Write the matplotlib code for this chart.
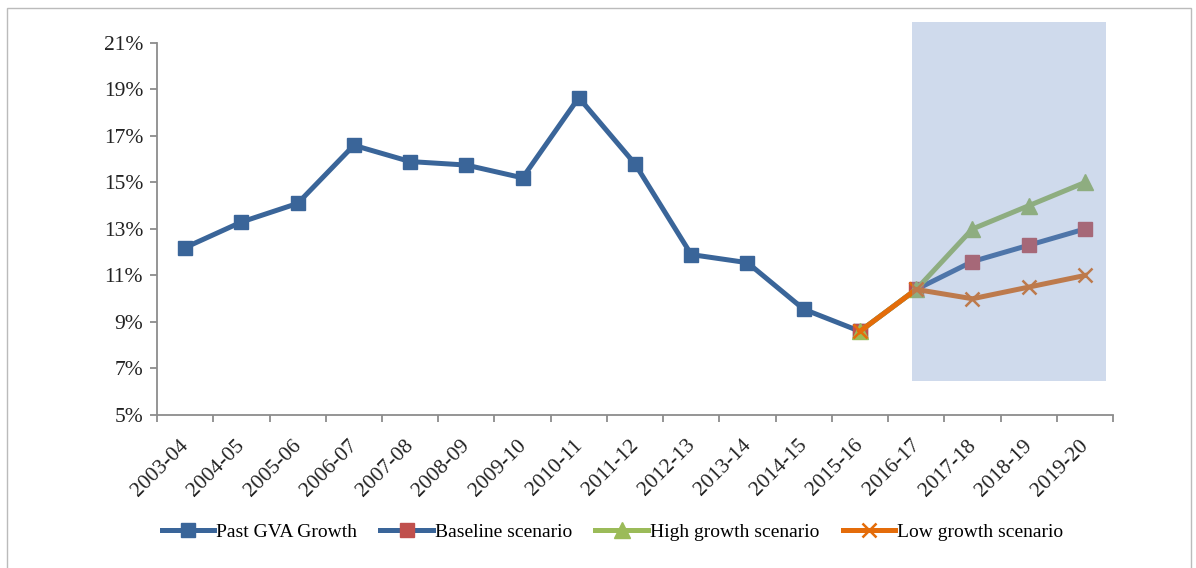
#!/usr/bin/env python3
# GVA growth: past values and three scenarios to 2019-20

import matplotlib
matplotlib.use('Agg')
import matplotlib.pyplot as plt
import matplotlib.transforms as mtransforms
from matplotlib.patches import Rectangle
from matplotlib.ticker import FuncFormatter

years = ['2003-04', '2004-05', '2005-06', '2006-07', '2007-08', '2008-09',
         '2009-10', '2010-11', '2011-12', '2012-13', '2013-14', '2014-15',
         '2015-16', '2016-17', '2017-18', '2018-19', '2019-20']

# Past GVA growth, 2003-04 .. 2015-16 (%)
past = [12.2, 13.3, 14.1, 16.6, 15.9, 15.75, 15.2, 18.65, 15.8,
        11.9, 11.55, 9.55, 8.6]

# Scenarios, 2015-16 .. 2019-20 (%)
baseline = [8.6, 10.4, 11.6, 12.3, 13.0]
high = [8.6, 10.4, 13.0, 14.0, 15.0]
low = [8.6, 10.4, 10.0, 10.5, 11.0]

yticks = [5, 7, 9, 11, 13, 15, 17, 19, 21]

plt.rcParams['font.family'] = ['Liberation Serif', 'DejaVu Serif']

fig = plt.figure(figsize=(11.96, 5.68), dpi=100)
ax = fig.add_axes([0.1313, 0.2694, 0.7993, 0.6549])

x_past = list(range(len(past)))
x_scen = list(range(len(past) - 1, len(years)))

blue = '#3A6599'
red = '#C0504D'
green = '#9BBB59'
orange = '#E46C0A'
lw = 3.6

ax.plot(x_past, past, color=blue, lw=lw, marker='s', ms=10,
        mfc=blue, mec=blue, label='Past GVA Growth', zorder=3)
ax.plot(x_scen, baseline, color=blue, lw=lw, marker='s', ms=10,
        mfc=red, mec=red, label='Baseline scenario', zorder=4)
ax.plot(x_scen, high, color=green, lw=lw, marker='^', ms=11,
        mfc=green, mec=green, label='High growth scenario', zorder=5)
ax.plot(x_scen, low, color=orange, lw=lw, marker='x', ms=10,
        mew=1.8, label='Low growth scenario', zorder=6)

# shaded projection box drawn over the lines
ax.add_patch(Rectangle((12.92, 6.46), 3.45, 15.45, facecolor='#7695C9',
                       edgecolor='none', alpha=0.35, zorder=10,
                       clip_on=False))

ax.set_xlim(-0.5, len(years) - 0.5)
ax.set_ylim(5, 21)
ax.set_yticks(yticks)
ax.yaxis.set_major_formatter(FuncFormatter(lambda v, p: f'{v:.0f}%'))
ax.set_xticks(range(len(years)))
ax.set_xticklabels(years, rotation=45, ha='right', rotation_mode='anchor')
ax.set_xticks([i - 0.5 for i in range(len(years) + 1)], minor=True)

for s in ['top', 'right']:
    ax.spines[s].set_visible(False)
for s in ['left', 'bottom']:
    ax.spines[s].set_color('#8C8C8C')
    ax.spines[s].set_linewidth(1.3)

ax.tick_params(axis='x', which='major', length=0, pad=13, labelsize=15.5,
               colors='#222222')
ax.tick_params(axis='x', which='minor', length=5, width=1.3,
               color='#8C8C8C', direction='out')
ax.tick_params(axis='y', length=5, width=1.3, color='#8C8C8C', pad=5,
               labelsize=15.5, labelcolor='#222222')

# nudge the rotated year labels a little left and down
shift = mtransforms.ScaledTranslation(-6 / 100, -3 / 100, fig.dpi_scale_trans)
for lab in ax.get_xticklabels():
    lab.set_transform(lab.get_transform() + shift)

fig.legend(loc='center', bbox_to_anchor=(0.512, 0.063), ncol=4,
           frameon=False, fontsize=14, handlelength=2.7,
           handletextpad=0.1, columnspacing=1.2)

fig.patches.append(Rectangle((0.006, -0.01), 0.99, 0.996,
                             transform=fig.transFigure, fill=False,
                             edgecolor='#BBBBBB', lw=1.0))

fig.savefig('out.png', dpi=100)
